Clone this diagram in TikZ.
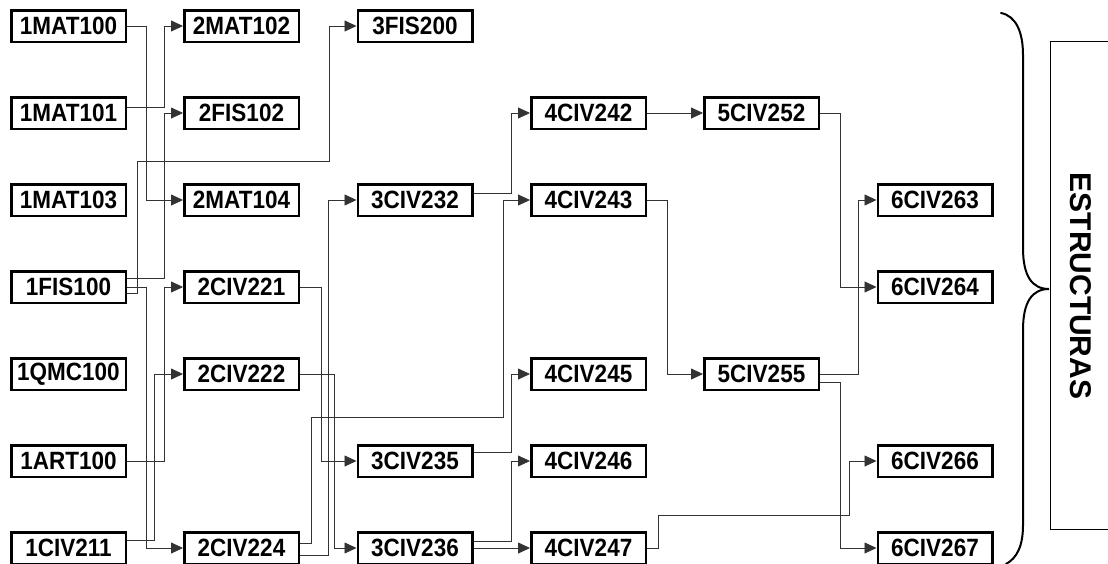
\documentclass[tikz,border=0pt]{standalone}
\usepackage{fontspec}
\setmainfont{Liberation Sans}
\newfontfamily\boxfont{Liberation Sans Bold}[FakeStretch=0.9]
\usetikzlibrary{arrows.meta,positioning,calc}
\tikzset{
  course/.style={rectangle,draw=black,line width=2.5pt,fill=white,minimum width=114.5pt,minimum height=31.5pt,inner sep=0pt,font=\boxfont\fontsize{25}{25}\selectfont},
  link/.style={line width=.8pt,black!80,-{Triangle[length=12pt,width=11pt]}},
  brace/.style={line width=2pt,black,line cap=round},
  area/.style={line width=1pt,black},
  lab/.style={font=\bfseries\fontsize{30}{30}\selectfont}
}

\begin{document}
\begin{tikzpicture}[x=1pt,y=-1pt]
  \useasboundingbox (0,0) rectangle (1108,563);
  % semester 1
  \node[course] (m100) at (68.5,26) {1MAT100};
  \node[course] (m101) at (68.5,113) {1MAT101};
  \node[course] (m103) at (68.5,200) {1MAT103};
  \node[course] (f100) at (68.5,287) {1FIS100};
  \node[course] (q100) at (68.5,374) {1QMC100};
  \node[course] (a100) at (68.5,461) {1ART100};
  \node[course] (c211) at (68.5,548) {1CIV211};
  % semester 2
  \node[course] (m102) at (241.5,26) {2MAT102};
  \node[course] (f102) at (241.5,113) {2FIS102};
  \node[course] (m104) at (241.5,200) {2MAT104};
  \node[course] (c221) at (241.5,287) {2CIV221};
  \node[course] (c222) at (241.5,374) {2CIV222};
  \node[course] (c224) at (241.5,548) {2CIV224};
  % semester 3
  \node[course] (f200) at (415,26) {3FIS200};
  \node[course] (c232) at (415,200) {3CIV232};
  \node[course] (c235) at (415,461) {3CIV235};
  \node[course] (c236) at (415,548) {3CIV236};
  % semester 4
  \node[course] (c242) at (588.5,113) {4CIV242};
  \node[course] (c243) at (588.5,200) {4CIV243};
  \node[course] (c245) at (588.5,374) {4CIV245};
  \node[course] (c246) at (588.5,461) {4CIV246};
  \node[course] (c247) at (588.5,548) {4CIV247};
  % semester 5
  \node[course] (c252) at (761.5,113) {5CIV252};
  \node[course] (c255) at (761.5,374) {5CIV255};
  % semester 6
  \node[course] (c263) at (935,200) {6CIV263};
  \node[course] (c264) at (935,287) {6CIV264};
  \node[course] (c266) at (935,461) {6CIV266};
  \node[course] (c267) at (935,548) {6CIV267};

  % prerequisites
  \draw[link] (m100.east) -- ++(19,0) |- (m104.west);
  \draw[link] ([yshift=6pt]m101.east) -- ++(37,0) |- (m102.west);
  \draw[link] ([yshift=9pt]f100.east) -- ++(37,0) |- (f102.west);
  \draw[link] ([yshift=-6pt]f100.east) -- ++(10,0) -- ++(0,-132) -| ([xshift=-27pt]f200.west) -- (f200.west);
  \draw[link] (f100.east) -- ++(19,0) |- (c224.west);
  \draw[link] ([yshift=8pt]c211.east) -- ++(27,0) |- (c222.west);
  \draw[link] (a100.east) -- ++(37,0) |- (c221.west);
  \draw[link] (c221.east) -- ++(21,0) |- (c235.west);
  \draw[link] (c222.east) -- ++(34,0) |- (c236.west);
  \draw[link] ([yshift=-7pt]c224.east) -- ++(28,0) |- (c232.west);
  \draw[link] ([yshift=5pt]c224.east) -- ++(11,0) -- ++(0,-126) -| ([xshift=-27pt]c243.west) -- (c243.west);
  \draw[link] ([yshift=7pt]c232.east) -- ++(38,0) |- (c242.west);
  \draw[link] ([yshift=9pt]c235.east) -- ++(38,0) |- (c245.west);
  \draw[link] ([yshift=7pt]c236.east) -- ++(38,0) |- (c246.west);
  \draw[link] (c236.east) -- (c247.west);
  \draw[link] (c247.east) -- ++(11,0) -- ++(0,-33) -| ([xshift=-27pt]c266.west) -- (c266.west);
  \draw[link] (c242.east) -- (c252.west);
  \draw[link] (c243.east) -- ++(20,0) |- (c255.west);
  \draw[link] (c252.east) -- ++(20,0) |- (c264.west);
  \draw[link] (c255.east) -- ++(38,0) |- (c263.west);
  \draw[link] ([yshift=-8pt]c255.east) -- ++(20,0) |- (c267.west);

  % area
  \draw[brace] (1001,13) .. controls (1016,16) and (1023,32) .. (1023,55)
    -- (1023,248) .. controls (1023,276) and (1032,289) .. (1049,289)
    .. controls (1032,289) and (1023,302) .. (1023,330)
    -- (1023,525) .. controls (1023,546) and (1017,558) .. (1006,564);
  \draw[area] (1050,41) rectangle (1130,529);
  \node[lab,rotate=-90] (est) at (1081,286) {ESTRUCTURAS};
\end{tikzpicture}
\end{document}
